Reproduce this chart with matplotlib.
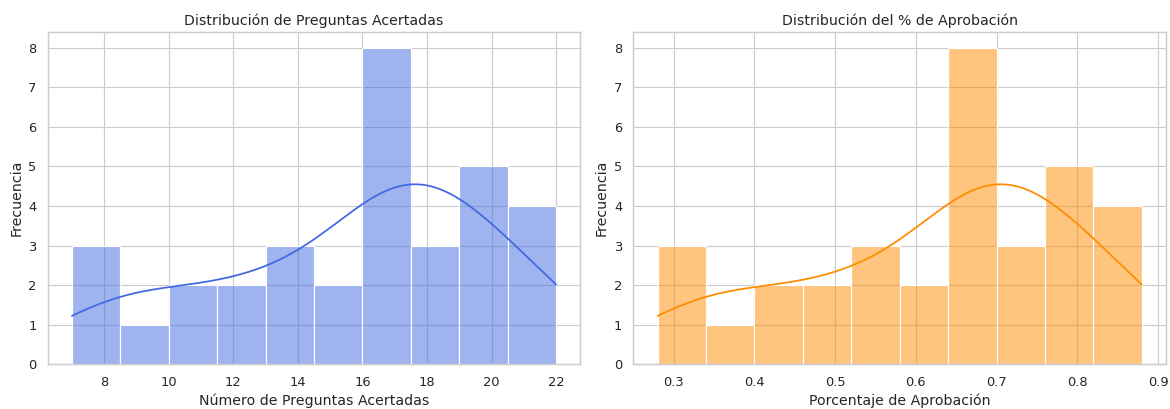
import matplotlib
matplotlib.use("Agg")
import matplotlib.pyplot as plt
import seaborn as sns
import numpy as np

preguntas_acertadas = [7, 8, 8, 9, 10, 10, 12, 12, 13, 13, 14, 15, 15,
                       16, 17, 17, 17, 17, 17, 17, 17, 18, 18, 18,
                       19, 19, 19, 20, 20, 21, 21, 22, 22]
total_preguntas = 25
porcentaje_aprobacion = [v / total_preguntas for v in preguntas_acertadas]

sns.set_theme(style="whitegrid")
plt.rcParams['font.family'] = ['DejaVu Sans']

fig, axes = plt.subplots(1, 2, figsize=(1170 / 85, 409 / 85), dpi=85)
fig.subplots_adjust(left=0.0408, right=0.9966, bottom=0.1093, top=0.9225, wspace=0.0996)

sns.histplot(preguntas_acertadas, bins=10, kde=True, color="royalblue", ax=axes[0])
axes[0].set_title("Distribución de Preguntas Acertadas")
axes[0].set_xlabel("Número de Preguntas Acertadas")
axes[0].set_ylabel("Frecuencia")

sns.histplot(porcentaje_aprobacion, bins=10, kde=True, color="darkorange", ax=axes[1])
axes[1].set_title("Distribución del % de Aprobación")
axes[1].set_xlabel("Porcentaje de Aprobación")
axes[1].set_ylabel("Frecuencia")

plt.savefig("out.png", dpi=85)
